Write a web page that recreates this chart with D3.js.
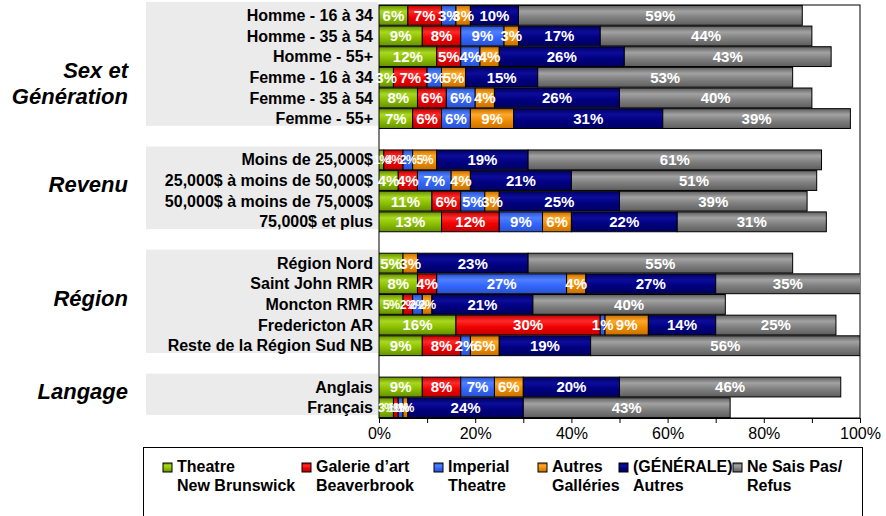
<!DOCTYPE html>
<meta charset="utf-8">
<style>
body { margin: 0; background: #fff; }
svg { font-family: Arial, "Liberation Sans", sans-serif; }
.row-label { font-size: 16px; font-weight: bold; fill: #000; }
.group-label { font-size: 22px; font-weight: bold; font-style: italic; fill: #000; }
.val { font-size: 15px; font-weight: bold; fill: #fff; }
.val.small { font-size: 12.5px; letter-spacing: -0.8px; }
.axis text { font-size: 16px; fill: #000; }
.axis path, .axis line { stroke: #000; }
.legend text { font-size: 16px; font-weight: bold; fill: #000; }
</style>
<body>
<script src="https://cdn.jsdelivr.net/npm/d3@7"></script>
<script>

// rows, top to bottom
var categories = [
  "Homme - 16 à 34", "Homme - 35 à 54", "Homme - 55+",
  "Femme - 16 à 34", "Femme - 35 à 54", "Femme - 55+",
  "Moins de 25,000$", "25,000$ à moins de 50,000$", "50,000$ à moins de 75,000$", "75,000$ et plus",
  "Région Nord", "Saint John RMR", "Moncton RMR", "Fredericton AR", "Reste de la Région Sud NB",
  "Anglais", "Français"
];

var groupNames = [["Sex et", "Génération"], ["Revenu"], ["Région"], ["Langage"]];
var groupSizes = [6, 4, 5, 2];

var seriesNames = [
  ["Theatre", "New Brunswick"],
  ["Galerie d’art", "Beaverbrook"],
  ["Imperial", "Theatre"],
  ["Autres", "Galléries"],
  ["(GÉNÉRALE)", "Autres"],
  ["Ne Sais Pas/", "Refus"]
];

// percentages per series, same order as categories
var theatreNB   = [6, 9, 12, 3, 8, 7,   1, 4, 11, 13,   5, 8, 5, 16, 9,   9, 3];
var beaverbrook = [7, 8, 5, 7, 6, 6,    4, 4, 6, 12,    0, 4, 2, 30, 8,   8, 1];
var imperial    = [3, 9, 4, 3, 6, 6,    2, 7, 5, 9,     0, 27, 2, 1, 2,   7, 1];
var autresGal   = [3, 3, 4, 5, 4, 9,    5, 4, 3, 6,     3, 4, 2, 9, 6,    6, 1];
var generale    = [10, 17, 26, 15, 26, 31,  19, 21, 25, 22,  23, 27, 21, 14, 19,  20, 24];
var neSaisPas   = [59, 44, 43, 53, 40, 39,  61, 51, 39, 31,  55, 35, 40, 25, 56,  46, 43];

var xTicks = [0, 10, 20, 30, 40, 50, 60, 70, 80, 90, 100];

// rows whose small labels were shrunk in the original
var smallLabelRows = ["Moins de 25,000$", "Moncton RMR", "Français"];

var values = [theatreNB, beaverbrook, imperial, autresGal, generale, neSaisPas];

var colors = [
  {base: "#8cc000", light: "#a8d820", dark: "#669000"},
  {base: "#f00000", light: "#ff2a2a", dark: "#c00000"},
  {base: "#3366ff", light: "#4f80ff", dark: "#2a52cc"},
  {base: "#f08c00", light: "#ffa82a", dark: "#c87000"},
  {base: "#000080", light: "#0c0c9a", dark: "#000060"},
  {base: "#808080", light: "#a2a2a2", dark: "#5e5e5e"}
];

var width = 886, height = 516;

var svg = d3.select("body").append("svg")
    .attr("width", width)
    .attr("height", height);

var defs = svg.append("defs");
colors.forEach(function(c, i) {
  var g = defs.append("linearGradient")
      .attr("id", "grad" + i)
      .attr("x1", 0).attr("y1", 0).attr("x2", 0).attr("y2", 1);
  g.append("stop").attr("offset", "0%").attr("stop-color", c.dark);
  g.append("stop").attr("offset", "30%").attr("stop-color", c.light);
  g.append("stop").attr("offset", "60%").attr("stop-color", c.base);
  g.append("stop").attr("offset", "100%").attr("stop-color", c.dark);
});

// slot for each row: one empty slot between groups
var slotOf = [], r = 0;
groupSizes.forEach(function(n, gi) {
  for (var k = 0; k < n; k++) { slotOf.push(r + gi); r++; }
});
var nSlots = categories.length + groupSizes.length - 1;

var x = d3.scaleLinear()
    .domain([0, 100])
    .range([379, 860]);

var y = d3.scaleBand()
    .domain(d3.range(nSlots))
    .range([5, 418])
    .paddingInner(0.04)
    .paddingOuter(0.02);

var step = y.step();

// grey band behind row labels, group titles on the left
var gStart = 0;
groupSizes.forEach(function(n, gi) {
  var top = y(slotOf[gStart]) - 3.5;
  svg.append("rect")
      .attr("x", 146)
      .attr("y", top)
      .attr("width", 232)
      .attr("height", n * step)
      .attr("fill", "#ebebeb");
  var center = top + n * step / 2;
  var lines = groupNames[gi];
  svg.append("text")
      .attr("class", "group-label")
      .attr("text-anchor", "end")
      .selectAll("tspan")
      .data(lines)
    .enter().append("tspan")
      .attr("x", 128)
      .attr("y", function(d, i) {
        return lines.length > 1 ? center + 6 + i * 26 : center - 3;
      })
      .attr("dy", "0.35em")
      .text(function(d) { return d; });
  gStart += n;
});

// row labels
svg.append("g").selectAll("text")
    .data(categories)
  .enter().append("text")
    .attr("class", "row-label")
    .attr("text-anchor", "end")
    .attr("x", 373)
    .attr("y", function(d, i) { return y(slotOf[i]) + y.bandwidth() / 2; })
    .attr("dy", "0.35em")
    .text(function(d) { return d; });

// plot frame
svg.append("rect")
    .attr("x", x(0))
    .attr("y", 5)
    .attr("width", x(100) - x(0))
    .attr("height", 413)
    .attr("fill", "none")
    .attr("stroke", "#000");

defs.append("clipPath").attr("id", "plotclip")
  .append("rect")
    .attr("x", x(0))
    .attr("y", 0)
    .attr("width", x(100) - x(0))
    .attr("height", 420);

// stacked segments
var segs = [];
categories.forEach(function(cat, i) {
  var x0 = 0;
  values.forEach(function(arr, s) {
    var v = arr[i];
    segs.push({row: i, cat: cat, s: s, v: v, x0: x0, x1: x0 + v});
    x0 += v;
  });
});
segs = segs.filter(function(d) { return d.v > 0; });

var bars = svg.append("g").attr("clip-path", "url(#plotclip)");

bars.selectAll("rect")
    .data(segs)
  .enter().append("rect")
    .attr("x", function(d) { return x(d.x0); })
    .attr("y", function(d) { return y(slotOf[d.row]); })
    .attr("width", function(d) { return x(d.x1) - x(d.x0); })
    .attr("height", y.bandwidth())
    .attr("fill", function(d) { return "url(#grad" + d.s + ")"; })
    .attr("stroke", "#000")
    .attr("stroke-width", 1);

svg.append("g").selectAll("text")
    .data(segs)
  .enter().append("text")
    .attr("class", function(d) {
      return "val" + (d.s < 4 && smallLabelRows.indexOf(d.cat) >= 0 ? " small" : "");
    })
    .attr("text-anchor", "middle")
    .attr("x", function(d) {
      return (x(Math.min(d.x0, 100)) + x(Math.min(d.x1, 100))) / 2;
    })
    .attr("y", function(d) { return y(slotOf[d.row]) + y.bandwidth() / 2; })
    .attr("dy", "0.36em")
    .text(function(d) { return d.v + "%"; });

// x axis
svg.append("g")
    .attr("class", "axis")
    .attr("transform", "translate(0,418)")
    .call(d3.axisBottom(x)
        .tickValues(xTicks)
        .tickSize(5)
        .tickSizeOuter(0)
        .tickPadding(5)
        .tickFormat(function(d) { return d % 20 === 0 ? d + "%" : ""; }));

// legend
var legendX = [163, 302, 434, 538, 619, 733];

svg.append("rect")
    .attr("x", 143.5)
    .attr("y", 447.5)
    .attr("width", 719)
    .attr("height", 80)
    .attr("fill", "#fff")
    .attr("stroke", "#000");

var leg = svg.append("g").attr("class", "legend")
  .selectAll("g")
    .data(seriesNames)
  .enter().append("g")
    .attr("transform", function(d, i) { return "translate(" + legendX[i] + ",463)"; });

leg.append("rect")
    .attr("width", 9)
    .attr("height", 9)
    .attr("fill", function(d, i) { return "url(#grad" + i + ")"; })
    .attr("stroke", "#000");

leg.append("text")
    .selectAll("tspan")
    .data(function(d) { return d; })
  .enter().append("tspan")
    .attr("x", 14)
    .attr("y", function(d, i) { return 9 + i * 19; })
    .text(function(d) { return d; });

</script>
</body>
